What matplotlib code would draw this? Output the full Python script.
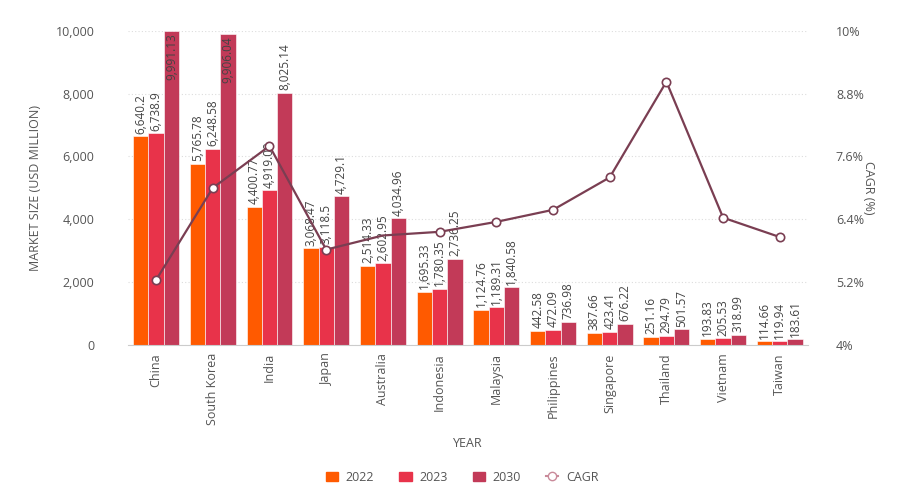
import matplotlib
matplotlib.use("Agg")
import matplotlib.pyplot as plt
from matplotlib.patches import Patch
from matplotlib.lines import Line2D
import numpy as np

countries = ["China", "South Korea", "India", "Japan", "Australia", "Indonesia",
             "Malaysia", "Philippines", "Singapore", "Thailand", "Vietnam", "Taiwan"]
v2022 = [6640.2, 5765.78, 4400.77, 3068.47, 2514.33, 1695.33, 1124.76, 442.58, 387.66, 251.16, 193.83, 114.66]
v2023 = [6738.9, 6248.58, 4919.09, 3118.5, 2602.95, 1780.35, 1189.31, 472.09, 423.41, 294.79, 205.53, 119.94]
v2030 = [9991.13, 9906.04, 8025.14, 4729.1, 4034.96, 2736.25, 1840.58, 736.98, 676.22, 501.57, 318.99, 183.61]
cagr = [5.24, 7.0, 7.8, 5.82, 6.09, 6.16, 6.35, 6.58, 7.2, 9.03, 6.43, 6.06]

plt.rcParams['font.family'] = ['Open Sans', 'DejaVu Sans']
txt = "#555555"

fig = plt.figure(figsize=(9.06, 4.99), dpi=100)
ax1 = fig.add_axes([0.141, 0.309, 0.751, 0.629])
ax2 = ax1.twinx()

x = np.arange(len(countries))
w = 0.27
cols = ["#FF5A00", "#E8334A", "#C23A58"]
for i, (vals, c) in enumerate(zip([v2022, v2023, v2030], cols)):
    xs = x + (i - 1) * w
    ax1.bar(xs, vals, w, color=c, edgecolor="white", linewidth=0.4, zorder=2)
    for xx, v in zip(xs, vals):
        s = f"{v:,.2f}".rstrip("0").rstrip(".")
        if v > 9000:
            ax1.text(xx, v - 80, s, rotation=90, ha="center", va="top", fontsize=8.5, color="#444444", zorder=5)
        else:
            ax1.text(xx, v + 80, s, rotation=90, ha="center", va="bottom", fontsize=8.5, color="#444444", zorder=5)

ax1.set_ylim(0, 10000)
ax1.set_xlim(-0.5, len(countries) - 0.5)
ax1.set_yticks(range(0, 10001, 2000))
ax1.set_yticklabels([f"{t:,}" for t in range(0, 10001, 2000)])
ax1.set_xticks(x)
ax1.set_xticklabels(countries, rotation=90)
ax1.grid(axis="y", linestyle=(0, (1, 2)), color="#dddddd", linewidth=0.8, zorder=0)
ax1.set_axisbelow(True)
ax1.set_ylabel("MARKET SIZE (USD MILLION)", color=txt, fontsize=9, labelpad=10)
ax1.set_xlabel("YEAR", color=txt, fontsize=9, labelpad=8)

ax2.plot(x, cagr, color="#7A3E52", linewidth=1.6, marker="o", markersize=6,
         markerfacecolor="white", markeredgecolor="#7A3E52", markeredgewidth=1.2,
         markevery=[i for i in range(len(x)) if i != 4], zorder=4)
ax2.set_ylim(4, 10)
ax2.set_yticks([4, 5.2, 6.4, 7.6, 8.8, 10])
ax2.set_yticklabels(["4%", "5.2%", "6.4%", "7.6%", "8.8%", "10%"])
ax2.set_ylabel("CAGR (%)", color=txt, fontsize=9, rotation=270, labelpad=8)

for a in (ax1, ax2):
    for s in a.spines.values():
        s.set_visible(False)
    a.tick_params(length=0, labelsize=9, colors=txt)
ax1.spines["bottom"].set_visible(True)
ax1.spines["bottom"].set_color("#cccccc")
ax1.tick_params(axis="y", pad=24)
ax2.tick_params(axis="y", pad=20)
ax1.tick_params(axis="x", pad=6)

handles = [Patch(color=cols[0], label="2022"), Patch(color=cols[1], label="2023"),
           Patch(color=cols[2], label="2030"),
           Line2D([], [], color="#C98A9A", marker="o", markerfacecolor="white", label="CAGR")]
fig.legend(handles=handles, loc="center", bbox_to_anchor=(0.51, 0.044), ncol=4, frameon=False,
           fontsize=9, handlelength=1.0, handletextpad=0.6, columnspacing=2.0, labelcolor=txt)

fig.savefig("out.png", dpi=100)
